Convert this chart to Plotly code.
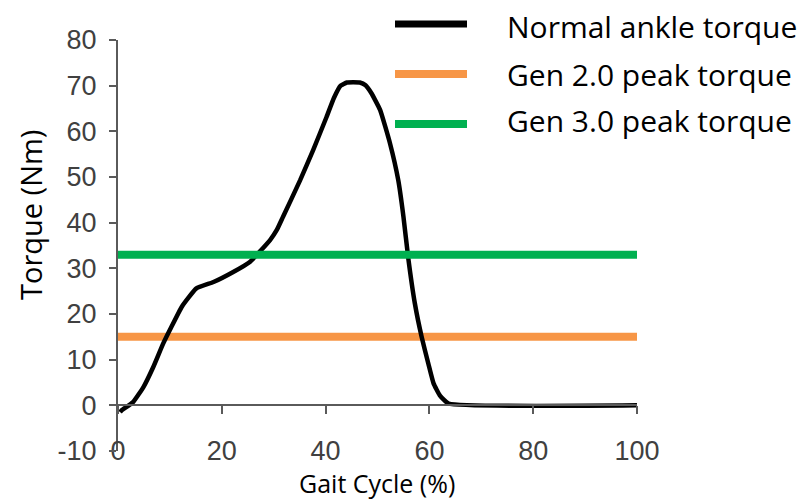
import plotly.graph_objects as go

# Normal ankle torque over one gait cycle
gait_pct = [0.4, 0.7, 2.9, 4.9, 6.8, 8.7, 10.3, 12.3, 15.1, 18.4, 22.2, 25.4, 29.3,
            30.6, 31.8, 35.1, 37.6, 40.2, 41.6, 42.9, 44.1, 46.6, 47.7, 48.8, 50.5,
            52.4, 54.0, 55.0, 55.9, 57.2, 58.5, 59.8, 60.8, 62.0, 63.7, 100.0]
torque_nm = [-1.5, -1.1, 0.7, 4.0, 8.4, 13.5, 17.2, 21.6, 25.6, 27.0, 29.2, 31.4, 36.2,
             38.4, 41.3, 49.3, 55.9, 63.2, 67.3, 70.0, 70.7, 70.7, 70.1, 68.4, 64.7,
             57.4, 49.3, 41.3, 32.5, 22.3, 15.0, 9.1, 4.8, 2.2, 0.4, 0.0]

# Peak torque capability of each actuator generation
cycle_span = [0, 100]
gen2_peak = 15
gen3_peak = 33

x_ticks = [0, 20, 40, 60, 80, 100]
y_ticks = [-10, 0, 10, 20, 30, 40, 50, 60, 70, 80]
y_tick_text = ["-10", "0", "10", "20", "30", "40", "50", "60", "70", "80"]
y_range = [-10, 80]

legend_labels = ["Normal ankle torque", "Gen 2.0 peak torque", "Gen 3.0 peak torque"]
black, orange, green = "#000000", "#F79646", "#00B050"

W, H = 803, 500
M = dict(l=118, r=166, t=40, b=49)
PW, PH = W - M["l"] - M["r"], H - M["t"] - M["b"]


def px_to_paper(px, py):
    return (px - M["l"]) / PW, (H - M["b"] - py) / PH


fig = go.Figure()
fig.add_trace(go.Scatter(x=cycle_span, y=[gen2_peak] * 2, mode="lines",
                         line=dict(color=orange, width=8), showlegend=False))
fig.add_trace(go.Scatter(x=gait_pct, y=torque_nm, mode="lines",
                         line=dict(color=black, width=4.5, shape="spline", smoothing=0.4),
                         showlegend=False))
fig.add_trace(go.Scatter(x=cycle_span, y=[gen3_peak] * 2, mode="lines",
                         line=dict(color=green, width=8), showlegend=False))
# invisible trace so the zero-line axis is drawn
fig.add_trace(go.Scatter(x=cycle_span, y=[0, 0], xaxis="x2", mode="lines",
                         line=dict(width=0), hoverinfo="skip", showlegend=False))

tick_font = dict(family="Liberation Sans, Arial, sans-serif", size=27, color="#404040")
axis_col = "#5a5a5a"
zero_pos = (0 - y_range[0]) / (y_range[1] - y_range[0])

fig.update_layout(
    width=W, height=H, margin=M,
    paper_bgcolor="white", plot_bgcolor="white",
    xaxis=dict(range=[0, 100], tickvals=x_ticks, showline=False, ticks="",
               showgrid=False, zeroline=False, tickfont=tick_font,
               anchor="free", position=px_to_paper(0, 432)[1]),
    xaxis2=dict(range=[0, 100], overlaying="x", matches="x", tickvals=x_ticks,
                showline=True, linecolor=axis_col, linewidth=2, ticks="outside",
                ticklen=8, tickwidth=2, tickcolor=axis_col, showticklabels=False,
                showgrid=False, zeroline=False, anchor="free", position=zero_pos),
    yaxis=dict(range=y_range, tickvals=y_ticks, ticktext=y_tick_text, showline=True,
               linecolor=axis_col, linewidth=2, ticks="outside", ticklen=7, tickwidth=2,
               tickcolor=axis_col, showgrid=False, zeroline=False, tickfont=tick_font,
               ticklabelstandoff=7),
)

title_font = dict(family="Open Sans, Noto Sans, sans-serif", size=25, color="#000000")
legend_font = dict(family="Open Sans, Noto Sans, sans-serif", size=30, color="#000000")
tx, ty = px_to_paper(377, 483)
fig.add_annotation(text="Gait Cycle (%)", x=tx, y=ty, xref="paper", yref="paper",
                   showarrow=False, font=title_font, xanchor="center", yanchor="middle")
tx, ty = px_to_paper(30, 215)
fig.add_annotation(text="Torque (Nm)", x=tx, y=ty, xref="paper", yref="paper",
                   showarrow=False, font=dict(title_font, size=29), textangle=-90,
                   xanchor="center", yanchor="middle")

# legend: long line swatches with labels
for label, col, ly, ty_ in zip(legend_labels, [black, orange, green],
                               [24, 74, 124], [26, 74, 121]):
    x0, y0 = px_to_paper(395, ly)
    x1, _ = px_to_paper(467, ly)
    fig.add_shape(type="line", xref="paper", yref="paper", x0=x0, x1=x1, y0=y0, y1=y0,
                  line=dict(color=col, width=8 if col != black else 7))
    ax, ay = px_to_paper(505, ty_)
    fig.add_annotation(text=label, x=ax, y=ay, xref="paper", yref="paper",
                       showarrow=False, font=legend_font, xanchor="left", yanchor="middle")

fig.write_html("out.html")
